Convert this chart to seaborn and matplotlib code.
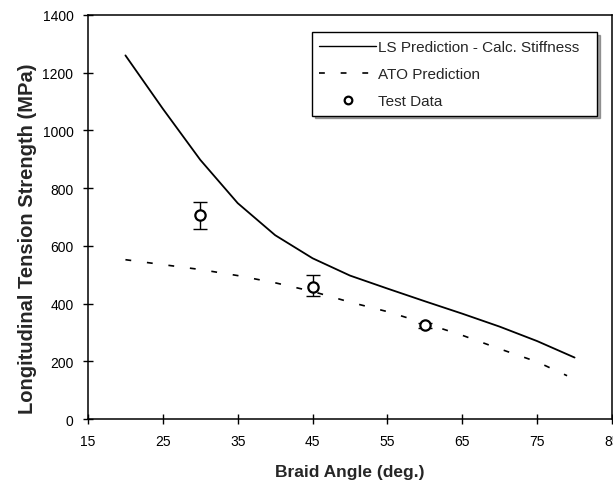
import matplotlib
matplotlib.use("Agg")
import matplotlib.pyplot as plt
import seaborn as sns
import pandas as pd
from matplotlib.lines import Line2D

# Data
ls_angle = [20, 25, 30, 35, 40, 45, 50, 55, 60, 65, 70, 75, 80]
ls_strength = [1260, 1075, 898, 748, 637, 557, 497, 452, 408, 365, 320, 270, 213]

ato_angle = [20, 25, 30, 35, 40, 45, 50, 55, 60, 65, 70, 75, 79]
ato_strength = [552, 535, 518, 497, 472, 442, 405, 372, 332, 290, 243, 198, 150]

test_angle = [30, 45, 60]
test_strength = [707, 457, 325]
test_err_low = [50, 32, 8]
test_err_high = [45, 42, 8]

x_ticks = [15, 25, 35, 45, 55, 65, 75, 85]
y_ticks = [0, 200, 400, 600, 800, 1000, 1200, 1400]

sns.set_style("ticks")
plt.rcParams['font.family'] = ['Liberation Sans', 'DejaVu Sans']

fig = plt.figure(figsize=(6.13, 4.89), dpi=100)
ax = fig.add_axes([88/613, 1 - 420/489, (612-88)/613, (420-16)/489])

ls_df = pd.DataFrame({"angle": ls_angle, "strength": ls_strength})
ato_df = pd.DataFrame({"angle": ato_angle, "strength": ato_strength})
test_df = pd.DataFrame({"angle": test_angle, "strength": test_strength})

sns.lineplot(data=ls_df, x="angle", y="strength", ax=ax, color="black", lw=1.3)
sns.lineplot(data=ato_df, x="angle", y="strength", ax=ax, color="black", lw=1.2,
             linestyle=(0, (3.5, 9.5)))
ax.errorbar(test_angle, test_strength, yerr=[test_err_low, test_err_high],
            fmt="none", ecolor="black", elinewidth=1, capsize=5, capthick=1)
sns.scatterplot(data=test_df, x="angle", y="strength", ax=ax, marker="o",
                facecolor="white", edgecolor="black", linewidth=1.6, s=55, zorder=5)

ax.set_xlim(15, 85)
ax.set_ylim(0, 1400)
ax.set_xticks(x_ticks)
ax.set_yticks(y_ticks)
ax.tick_params(direction="inout", length=7, width=1, labelsize=10, colors="black")
ax.tick_params(axis="x", pad=7)
ax.tick_params(axis="y", pad=7)
for s in ax.spines.values():
    s.set_color("black")
    s.set_linewidth(1.1)

ax.set_xlabel("Braid Angle (deg.)", fontsize=12.5, fontweight="bold", labelpad=12)
ax.set_ylabel("Longitudinal Tension Strength (MPa)", fontsize=14.5, fontweight="bold")
ax.yaxis.set_label_coords(-0.097, 0.448)

handles = [
    Line2D([], [], color="black", lw=1),
    Line2D([], [], color="black", lw=1.2, linestyle=(0, (3.5, 9.5))),
    Line2D([], [], color="black", marker="o", linestyle="none", markerfacecolor="white",
           markeredgewidth=1.6, markersize=5.5),
]
labels = ["LS Prediction - Calc. Stiffness", "ATO Prediction", "Test Data"]
leg = ax.legend(handles, labels, loc="upper left", bbox_to_anchor=(0.427, 0.726, 0.544, 0.231),
                bbox_transform=ax.transAxes, mode="expand", fancybox=False, shadow=True,
                edgecolor="black", framealpha=1, fontsize=11, handlelength=3.7,
                handletextpad=0.15, labelspacing=0.85, borderpad=0.5, borderaxespad=0)
leg.get_frame().set_linewidth(1)

fig.savefig("out.png", dpi=100)
